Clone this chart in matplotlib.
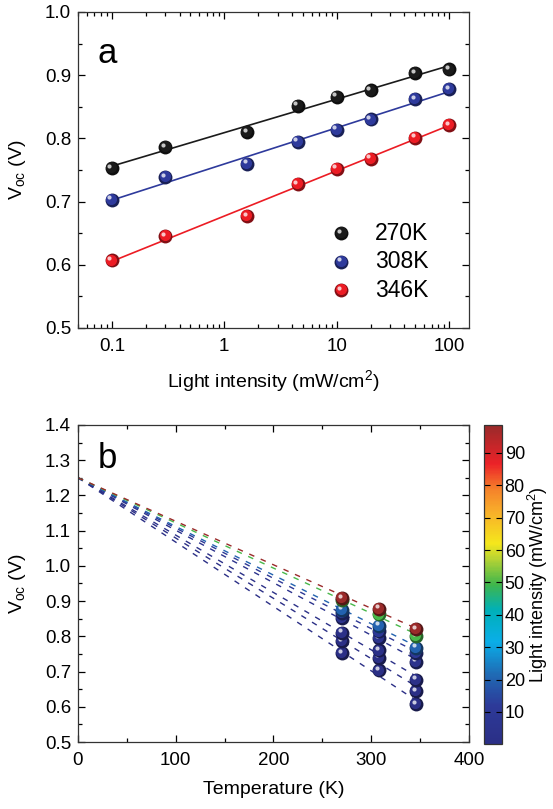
import numpy as np
import matplotlib
matplotlib.use('Agg')
import matplotlib.pyplot as plt
from matplotlib.colors import LinearSegmentedColormap, Normalize, to_rgb
from matplotlib.transforms import offset_copy
from matplotlib.ticker import MultipleLocator, FormatStrFormatter

plt.rcParams['font.family'] = ['Liberation Sans', 'DejaVu Sans']
plt.rcParams['mathtext.fontset'] = 'custom'
plt.rcParams['mathtext.rm'] = 'Liberation Sans'

# data
intensity = [0.1, 0.3, 1.6, 4.5, 10, 20, 50, 100]
temps = [270, 308, 346]
temp_labels = ['270K', '308K', '346K']
voc_270 = [0.753, 0.786, 0.810, 0.852, 0.866, 0.876, 0.903, 0.909]
voc_308 = [0.703, 0.739, 0.760, 0.795, 0.814, 0.830, 0.862, 0.878]
voc_346 = [0.607, 0.645, 0.677, 0.728, 0.752, 0.768, 0.801, 0.821]
voc_all = [voc_270, voc_308, voc_346]
colors_a = ['#1b1b1b', '#2e3a9c', '#ec1c24']
v0 = 1.25  # extrapolated Voc at 0 K

cmap = LinearSegmentedColormap.from_list('origin_rainbow', [
    (0.00, '#2b2f86'), (0.12, '#2d3a99'), (0.22, '#1f6cb5'),
    (0.32, '#0aaee8'), (0.42, '#00b0b8'), (0.50, '#3fb64c'),
    (0.58, '#b5d334'), (0.63, '#f5e71c'), (0.73, '#f8ae2a'),
    (0.80, '#f5822a'), (0.88, '#ec2228'), (1.00, '#9a2a2a')])
norm = Normalize(vmin=0.1, vmax=98.5)

FS = 13.5

fig = plt.figure(figsize=(5.53, 8.09), dpi=100)
ax1 = fig.add_axes([0.141, 0.5946, 0.707, 0.3906])
ax2 = fig.add_axes([0.141, 0.0828, 0.707, 0.392])
cax = fig.add_axes([0.875, 0.0803, 0.0326, 0.394])


def darker(c, f=0.55):
    r, g, b = to_rgb(c)
    return (r * f, g * f, b * f)


def lighter(c, f=0.5):
    r, g, b = to_rgb(c)
    return (r + (1 - r) * f, g + (1 - g) * f, b + (1 - b) * f)


def sphere(ax, x, y, color, ms=10, z=4):
    ax.plot(x, y, 'o', ms=ms, color=darker(color), mec='none', zorder=z, clip_on=False)
    t1 = offset_copy(ax.transData, fig=fig, x=-0.6, y=0.6, units='points')
    ax.plot(x, y, 'o', ms=ms * 0.8, color=color, mec='none', zorder=z + 0.1, transform=t1, clip_on=False)
    t2 = offset_copy(ax.transData, fig=fig, x=-1.7, y=1.7, units='points')
    ax.plot(x, y, 'o', ms=ms * 0.3, color=lighter(color, 0.75), mec='none', zorder=z + 0.2, transform=t2, clip_on=False)


def style_ticks(ax):
    ax.tick_params(which='both', direction='in', top=True, right=True, labelsize=FS, width=0.9, pad=5)
    ax.tick_params(which='major', length=5)
    ax.tick_params(which='minor', length=3)
    for s in ax.spines.values():
        s.set_linewidth(0.9)
        s.set_color('#333333')


# panel a
lx = np.log10(intensity)
for vals, c in zip(voc_all, colors_a):
    k, b = np.polyfit(lx, vals, 1)
    ax1.plot([intensity[0], intensity[-1]], [k * lx[0] + b, k * lx[-1] + b], color=c, lw=1.2, zorder=2)
    sphere(ax1, intensity, vals, c)

ax1.set_xscale('log')
ax1.set_xlim(0.05, 150)
ax1.set_ylim(0.5, 1.0)
ax1.set_xticks([0.1, 1, 10, 100])
ax1.set_xticklabels(['0.1', '1', '10', '100'])
ax1.yaxis.set_major_locator(MultipleLocator(0.1))
ax1.yaxis.set_minor_locator(MultipleLocator(0.05))
ax1.yaxis.set_major_formatter(FormatStrFormatter('%.1f'))
style_ticks(ax1)
ax1.tick_params(axis='x', pad=7)
ax1.set_xlabel('Light intensity (mW/cm$^{\\mathregular{2}}$)', fontsize=14, labelpad=10)
ax1.set_ylabel('V$_{\\mathregular{oc}}$ (V)', fontsize=14, labelpad=12)
ax1.text(0.05, 0.87, 'a', transform=ax1.transAxes, fontsize=25, va='center')

# legend drawn as spheres
for i, (c, lab) in enumerate(zip(colors_a, temp_labels)):
    yy = 0.650 - i * 0.045
    sphere(ax1, [11], [yy], c)
    ax1.text(22, yy, lab, fontsize=16.5, va='center', ha='left')

# panel b
T = np.array(temps, dtype=float)
for j, inten in enumerate(intensity):
    vals = np.array([voc_all[i][j] for i in range(3)])
    slope = np.sum((vals - v0) * T) / np.sum(T ** 2)
    c = cmap(norm(inten))
    ax2.plot([0, 346], [v0, v0 + slope * 346], color=c, lw=1.0, ls=(0, (4, 5)), zorder=2)
for i, tt in enumerate(temps):
    for j, inten in enumerate(intensity):
        sphere(ax2, [tt], [voc_all[i][j]], cmap(norm(inten)), z=4 + j * 0.5)

ax2.set_xlim(0, 400)
ax2.set_ylim(0.5, 1.4)
ax2.xaxis.set_major_locator(MultipleLocator(100))
ax2.xaxis.set_minor_locator(MultipleLocator(50))
ax2.yaxis.set_major_locator(MultipleLocator(0.1))
ax2.yaxis.set_minor_locator(MultipleLocator(0.05))
ax2.yaxis.set_major_formatter(FormatStrFormatter('%.1f'))
style_ticks(ax2)
ax2.tick_params(axis='x', pad=7)
ax2.set_xlabel('Temperature (K)', fontsize=14, labelpad=9)
ax2.set_ylabel('V$_{\\mathregular{oc}}$ (V)', fontsize=14, labelpad=12)
ax2.text(0.05, 0.895, 'b', transform=ax2.transAxes, fontsize=25, va='center')

# colorbar
sm = matplotlib.cm.ScalarMappable(norm=norm, cmap=cmap)
cb = fig.colorbar(sm, cax=cax)
cb.set_ticks([10, 20, 30, 40, 50, 60, 70, 80, 90])
cb.ax.tick_params(direction='in', length=4, width=0.8, labelsize=13, left=True, right=True, pad=2)
cb.outline.set_linewidth(0.9)
cb.outline.set_edgecolor('#333333')
cb.set_label('Light intensity (mW/cm$^{\\mathregular{2}}$)', fontsize=13, labelpad=1)

fig.savefig('out.png', dpi=100)
